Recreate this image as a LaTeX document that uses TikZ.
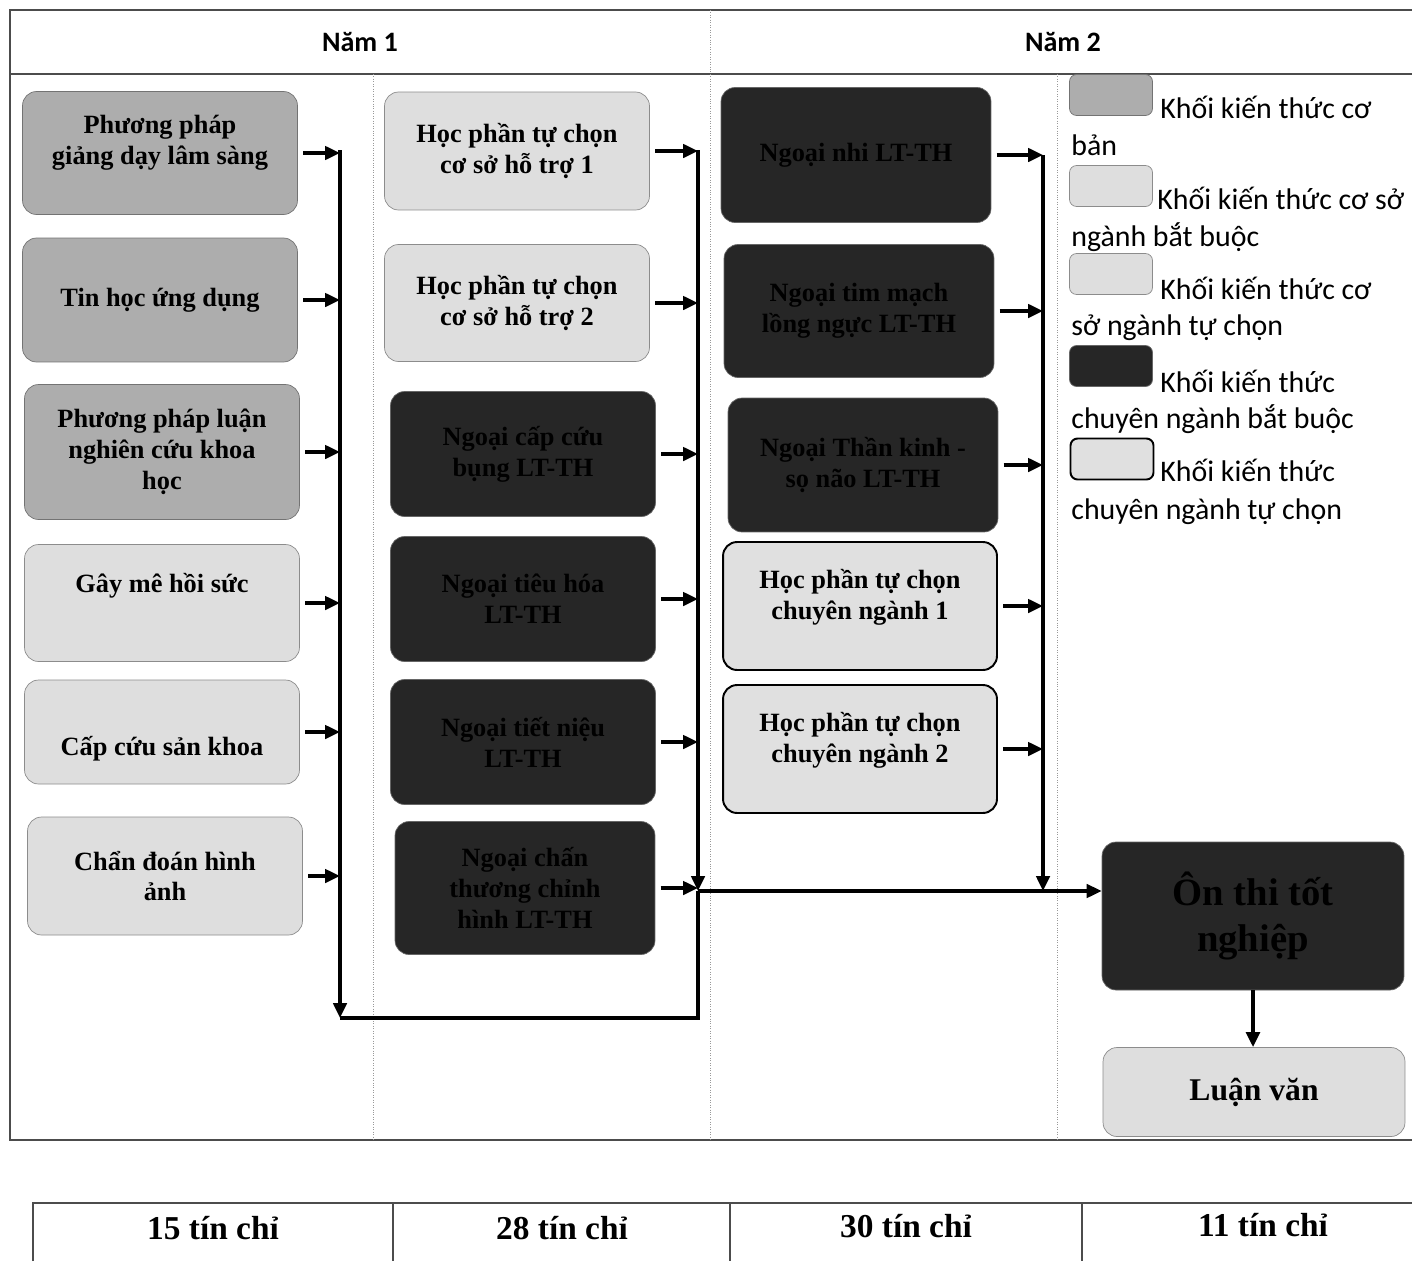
\documentclass[tikz,border=0pt]{standalone}
\usepackage{fontspec}
\setmainfont{Liberation Serif}
\newfontfamily\lgfont{Carlito}
\usetikzlibrary{arrows.meta,positioning}

\begin{document}
\begin{tikzpicture}[
  x=0.02cm,y=-0.02cm,
  box/.style={draw=black!45,rounded corners=8pt,align=center,inner sep=2pt,font=\bfseries\fontsize{15}{17.6}\selectfont},
  basic/.style={box,fill=black!32,draw=black!55},
  core/.style={box,fill=black!13},
  major/.style={box,fill=black!85,draw=black!60,text=black},
  elect/.style={box,fill=black!12,draw=black,line width=1.1pt},
  c1/.style={minimum width=5.5cm},
  c2/.style={minimum width=5.3cm},
  c3/.style={minimum width=5.4cm},
  swatch/.style={minimum width=1.66cm,minimum height=0.82cm,rounded corners=4pt,inner sep=0pt},
  lg/.style={font=\lgfont\fontsize{17}{21}\selectfont,anchor=base west,inner sep=0pt},
  hd/.style={font=\lgfont\bfseries\fontsize{16}{19}\selectfont},
  cred/.style={font=\bfseries\fontsize{19}{22}\selectfont},
  rule/.style={draw=black!70,line width=0.9pt},
  col/.style={draw=black!40,line width=0.4pt,densely dotted},
  arr/.style={-{Triangle[length=3mm,width=2.7mm]},line width=1.8pt},
  feed/.style={arr,shorten <=3pt},
  wire/.style={line width=1.8pt}
]
\useasboundingbox (0,0) rectangle (1412,1261);
\draw[rule] (1412,10) -- (10,10) -- (10,1140) -- (1412,1140);
\draw[rule] (10,74) -- (1412,74);
\draw[col] (710,10) -- (710,1140);
\draw[col] (373,74) -- (373,1140);
\draw[col] (1057,74) -- (1057,1140);
\draw[rule] (33,1261) -- (33,1203) -- (1412,1203);
\draw[rule] (393,1203) -- (393,1261);
\draw[rule] (730,1203) -- (730,1261);
\draw[rule] (1082,1203) -- (1082,1261);
\node[hd] (nam1) at (360,42) {Năm 1};
\node[hd] (nam2) at (1063,42) {Năm 2};

\node[basic,c1,minimum height=2.46cm] (ppgd) at (160,153) {Phương pháp\\giảng dạy lâm sàng\\[-8pt]\strut};
\node[basic,c1,minimum height=2.48cm] (tinhoc) at (160,300) {Tin học ứng dụng};
\node[basic,c1,minimum height=2.7cm] (ppl) at (162,452) {Phương pháp luận\\nghiên cứu khoa\\học};
\node[core,c1,minimum height=2.34cm] (gayme) at (162,603) {Gây mê hồi sức\\ \strut};
\node[core,c1,minimum height=2.08cm] (capcuu) at (162,732) {\strut\\ Cấp cứu sản khoa};
\node[core,c1,minimum height=2.36cm] (chandoan) at (165,876) {Chẩn đoán hình\\ảnh};

\node[core,c2,minimum height=2.36cm] (hpcs1) at (517,151) {Học phần tự chọn\\cơ sở hỗ trợ 1};
\node[core,c2,minimum height=2.34cm] (hpcs2) at (517,303) {Học phần tự chọn\\cơ sở hỗ trợ 2};
\node[major,c2,minimum height=2.5cm] (capcuubung) at (523,454) {Ngoại cấp cứu\\bụng LT-TH};
\node[major,c2,minimum height=2.5cm] (tieuhoa) at (523,599) {Ngoại tiêu hóa\\LT-TH};
\node[major,c2,minimum height=2.5cm] (tietnieu) at (523,742) {Ngoại tiết niệu\\LT-TH};
\node[major,minimum width=5.2cm,minimum height=2.66cm] (chanthuong) at (525,888) {Ngoại chấn\\thương chỉnh\\hình LT-TH};

\node[major,c3,minimum height=2.7cm] (nhi) at (856,155) {Ngoại nhi LT-TH};
\node[major,c3,minimum height=2.66cm] (timmach) at (859,311) {Ngoại tim mạch\\lồng ngực LT-TH};
\node[major,c3,minimum height=2.68cm] (thankinh) at (863,465) {Ngoại Thần kinh -\\sọ não LT-TH};
\node[elect,minimum width=5.48cm,minimum height=2.56cm] (hpcn1) at (860,606) {Học phần tự chọn\\chuyên ngành 1\\[-10pt]\strut};
\node[elect,minimum width=5.48cm,minimum height=2.56cm] (hpcn2) at (860,749) {Học phần tự chọn\\chuyên ngành 2\\[-10pt]\strut};

\node[major,minimum width=6.04cm,minimum height=2.96cm,font=\bfseries\fontsize{22}{26.6}\selectfont] (onthi) at (1253,916) {Ôn thi tốt\\nghiệp};
\node[core,minimum width=6.04cm,minimum height=1.78cm,font=\bfseries\fontsize{18}{21}\selectfont] (luanvan) at (1254,1092) {Luận văn};

\node[basic,swatch] (sw1) at (1111,95) {};
\node[core,swatch] (sw2) at (1111,186) {};
\node[core,swatch] (sw3) at (1111,274) {};
\node[major,swatch] (sw4) at (1111,366) {};
\node[elect,swatch] (sw5) at (1112,459) {};
\node[lg] (lg1a) at (1160,118) {Khối kiến thức cơ};
\node[lg] (lg1b) at (1071,155) {bản};
\node[lg] (lg2a) at (1157,209) {Khối kiến thức cơ sở};
\node[lg] (lg2b) at (1071,246) {ngành bắt buộc};
\node[lg] (lg3a) at (1160,299) {Khối kiến thức cơ};
\node[lg] (lg3b) at (1071,335) {sở ngành tự chọn};
\node[lg] (lg4a) at (1160,392) {Khối kiến thức};
\node[lg] (lg4b) at (1071,428) {chuyên ngành bắt buộc};
\node[lg] (lg5a) at (1160,481) {Khối kiến thức};
\node[lg] (lg5b) at (1071,519) {chuyên ngành tự chọn};

\node[cred] (tc1) at (213,1228) {15 tín chỉ};
\node[cred] (tc2) at (562,1228) {28 tín chỉ};
\node[cred] (tc3) at (906,1226) {30 tín chỉ};
\node[cred] (tc4) at (1263,1225) {11 tín chỉ};

\coordinate (busL) at (340,150);
\coordinate (busLend) at (340,1018);
\coordinate (busM) at (698,150);
\coordinate (join) at (698,891);
\coordinate (busR) at (1043,155);
\draw[feed] (ppgd.east) -- (ppgd.east -| busL);
\draw[feed] (tinhoc.east) -- (tinhoc.east -| busL);
\draw[feed] (ppl.east) -- (ppl.east -| busL);
\draw[feed] (gayme.east) -- (gayme.east -| busL);
\draw[feed] (capcuu.east) -- (capcuu.east -| busL);
\draw[feed] (chandoan.east) -- (chandoan.east -| busL);
\draw[feed] (hpcs1.east) -- (hpcs1.east -| busM);
\draw[feed] (hpcs2.east) -- (hpcs2.east -| busM);
\draw[feed] (capcuubung.east) -- (capcuubung.east -| busM);
\draw[feed] (tieuhoa.east) -- (tieuhoa.east -| busM);
\draw[feed] (tietnieu.east) -- (tietnieu.east -| busM);
\draw[feed] (chanthuong.east) -- (chanthuong.east -| busM);
\draw[feed] (nhi.east) -- (nhi.east -| busR);
\draw[feed] (timmach.east) -- (timmach.east -| busR);
\draw[feed] (thankinh.east) -- (thankinh.east -| busR);
\draw[feed] (hpcn1.east) -- (hpcn1.east -| busR);
\draw[feed] (hpcn2.east) -- (hpcn2.east -| busR);
\draw[arr] (busL) -- (busLend);
\draw[wire] (busLend) -- (busLend -| join) -- (join);
\draw[arr] (busM) -- (join);
\draw[arr] (busR) -- (busR |- join);
\draw[arr] (join) -- (join -| onthi.west);
\draw[arr,line width=2.4pt] (onthi.south) -- (onthi.south |- luanvan.north);
\end{tikzpicture}
\end{document}
